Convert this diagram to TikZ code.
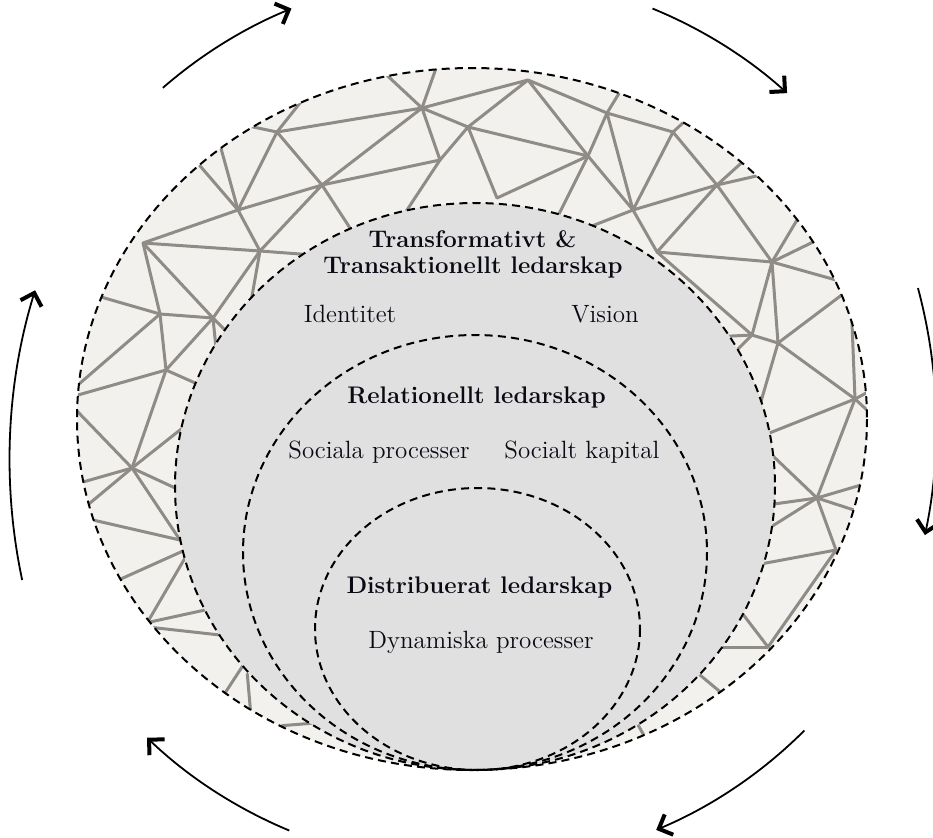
\documentclass[tikz,border=0pt]{standalone}
\usetikzlibrary{arrows.meta}
\definecolor{ringfill}{HTML}{F3F1EE}
\definecolor{corefill}{HTML}{E0E0E1}
\definecolor{meshgray}{HTML}{8F8B87}
\definecolor{txt}{HTML}{0A0A14}
\begin{document}
\begin{tikzpicture}[x=0.5pt,y=-0.5pt,
  ring/.style={draw=black, line width=1pt, dash pattern=on 4pt off 2.6pt},
  mesh/.style={draw=meshgray, line width=1.5pt, line cap=round},
  stub/.style={mesh, shorten >=-4pt},
  free/.style={mesh, shorten >=-4pt, shorten <=-4pt},
  cyc/.style={draw=black, line width=0.9pt, -{Straight Barb[length=5.5pt,width=11pt,line width=2pt]}},
  hd/.style={font=\fontsize{12}{14}\selectfont\bfseries, text=txt, inner sep=0pt, anchor=base},
  lb/.style={font=\fontsize{12.5}{15}\selectfont, text=txt, inner sep=0pt, anchor=base}]
\useasboundingbox (0,0) rectangle (933,837);

% outer ring
\fill[ringfill] (472,419) ellipse [x radius=395, y radius=351];
\begin{scope}
\clip (472,419) ellipse [x radius=395, y radius=351];
\coordinate (A) at (422,108);
\coordinate (B) at (277,132);
\coordinate (C) at (528,80);
\coordinate (D) at (468,127);
\coordinate (E) at (588,156);
\coordinate (F) at (607,113);
\coordinate (G) at (673,132);
\coordinate (H) at (322,185);
\coordinate (I) at (238,210);
\coordinate (J) at (143,243);
\coordinate (K) at (260,251);
\coordinate (L) at (160,314);
\coordinate (M) at (213,318);
\coordinate (N) at (440,160);
\coordinate (O) at (166,370);
\coordinate (P) at (497,198);
\coordinate (Q) at (633,210);
\coordinate (R) at (717,185);
\coordinate (S) at (657,252);
\coordinate (T) at (772,262);
\coordinate (U) at (752,335);
\coordinate (V) at (778,343);
\coordinate (W) at (855,399);
\coordinate (X) at (817,498);
\coordinate (Y) at (836,550);
\coordinate (Z) at (768,647);
\coordinate (Pb) at (132,468);
% edges
\draw[mesh] (A)--(B) (A)--(C) (A)--(D) (A)--(H) (A)--(N)
  (B)--(I) (B)--(H) (C)--(D) (C)--(E) (C)--(F)
  (D)--(N) (D)--(P) (D)--(E) (E)--(P) (E)--(F) (E)--(Q)
  (F)--(G) (F)--(Q) (G)--(R) (G)--(Q) (Q)--(R) (Q)--(S)
  (R)--(S) (R)--(T) (S)--(T) (S)--(U) (T)--(U) (T)--(V)
  (U)--(V) (V)--(W) (W)--(X) (X)--(Y) (Y)--(Z)
  (H)--(I) (H)--(K) (H)--(N) (I)--(J) (I)--(K)
  (J)--(K) (J)--(L) (J)--(M) (K)--(M) (L)--(M) (L)--(O)
  (M)--(O) (O)--(Pb);
% stubs to the borders
\draw[stub] (A)--(392,80); \draw[stub] (A)--(434,74);
\draw[stub] (B)--(258,128); \draw[stub] (B)--(296,108);
\draw[stub] (F)--(618,95); \draw[stub] (G)--(684,122);
\draw[stub] (R)--(738,166); \draw[stub] (R)--(752,177);
\draw[stub] (T)--(811,243); \draw[stub] (T)--(836,280); \draw[stub] (T)--(797,220);
\draw[stub] (U)--(732,336); \draw[stub] (U)--(738,349);
\draw[stub] (V)--(843,294); \draw[stub] (V)--(762,398);
\draw[stub] (W)--(852,323); \draw[stub] (W)--(868,392); \draw[stub] (W)--(868,411); \draw[stub] (W)--(772,432);
\draw[stub] (X)--(774,504); \draw[stub] (X)--(774,525); \draw[stub] (X)--(861,485); \draw[stub] (X)--(857,511); \draw[stub] (X)--(773,456);
\draw[stub] (Y)--(766,563);
\draw[stub] (Z)--(742,613); \draw[stub] (Z)--(722,647);
\draw[stub] (H)--(350,228); \draw[stub] (N)--(407,210);
\draw[stub] (E)--(560,212); \draw[stub] (Q)--(597,224);
\draw[stub] (I)--(222,152); \draw[stub] (I)--(201,167);
\draw[stub] (K)--(300,254); \draw[stub] (K)--(252,296);
\draw[stub] (L)--(101,297); \draw[stub] (L)--(79,384);
\draw[stub] (M)--(223,328); \draw[stub] (M)--(215,338);
\draw[stub] (O)--(78,395); \draw[stub] (O)--(193,382);
\draw[stub] (Pb)--(78,412); \draw[stub] (Pb)--(180,430); \draw[stub] (Pb)--(83,482);
\draw[stub] (Pb)--(173,487); \draw[stub] (Pb)--(90,503); \draw[stub] (Pb)--(180,540);
% loose pieces near the lower border
\draw[free] (93,520)--(180,540);
\draw[free] (183,551)--(123,578);
\draw[free] (185,558)--(150,618);
\draw[free] (150,622)--(205,610);
\draw[free] (157,628)--(220,635);
\draw[free] (242,667)--(227,690);
\draw[free] (248,682)--(250,705);
\draw[free] (290,725)--(315,723);
\draw[free] (700,675)--(718,690);
\draw[free] (637,723)--(642,732);
\end{scope}

% core ellipses
\fill[corefill] (475,486.5) ellipse [x radius=300, y radius=283.5];
\draw[ring] (475,486.5) ellipse [x radius=300, y radius=283.5];
\draw[ring] (475,552.5) ellipse [x radius=232, y radius=217.5];
\draw[ring] (477.5,629) ellipse [x radius=162.5, y radius=141];
\draw[ring] (472,419) ellipse [x radius=395, y radius=351];

% texts
\node[hd] (t1) at (472.5,247) {Transformativt \&};
\node[hd] (t2) at (473,273) {Transaktionellt ledarskap};
\node[lb] (id) at (350,322) {Identitet};
\node[lb] (vi) at (605,322) {Vision};
\node[hd] (rl) at (476.5,403) {Relationellt ledarskap};
\node[lb] (sp) at (379,458) {Sociala processer};
\node[lb] (sk) at (582,458) {Socialt kapital};
\node[hd] (dl) at (479.5,593) {Distribuerat ledarskap};
\node[lb] (dp) at (481,648) {Dynamiska processer};

% cycle arrows
\draw[cyc] (472,420) ++(-132:462 and 447) arc[start angle=-132, end angle=-113, x radius=462, y radius=447];
\draw[cyc] (472,420) ++(-67:462 and 447) arc[start angle=-67, end angle=-47, x radius=462, y radius=447];
\draw[cyc] (403.8,426.2) ++(-15.04:532.4) arc[start angle=-15.04, end angle=11.8, radius=532.4];
\draw[cyc] (472,420) ++(44:462 and 447) arc[start angle=44, end angle=66.5, x radius=462, y radius=447];
\draw[cyc] (472,420) ++(113.3:462 and 447) arc[start angle=113.3, end angle=134.7, x radius=462, y radius=447];
\draw[cyc] (588.6,460.1) ++(168.05:579) arc[start angle=168.05, end angle=197.06, radius=579];
\end{tikzpicture}
\end{document}
